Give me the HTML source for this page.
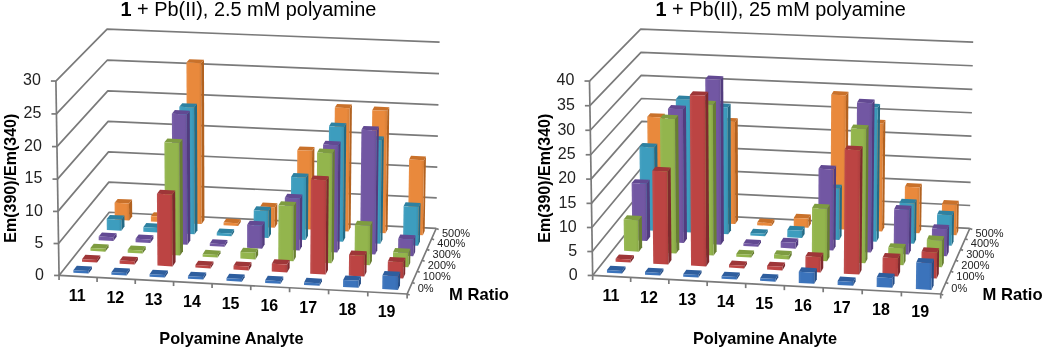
<!DOCTYPE html><html><head><meta charset="utf-8"><style>html,body{margin:0;padding:0;background:#fff}body{width:1050px;height:353px;overflow:hidden;font-family:"Liberation Sans",sans-serif}svg{display:block;filter:blur(0.45px)}</style></head><body><svg width="1050" height="353" viewBox="0 0 1050 353" font-family="'Liberation Sans', sans-serif"><defs><linearGradient id="g0" x1="0" x2="1" y1="0" y2="0"><stop offset="0" stop-color="#487CBF"/><stop offset="0.18" stop-color="#3B73BB"/><stop offset="0.8" stop-color="#3B73BB"/><stop offset="1" stop-color="#3669AC"/></linearGradient><linearGradient id="g1" x1="0" x2="1" y1="0" y2="0"><stop offset="0" stop-color="#C05150"/><stop offset="0.18" stop-color="#BC4443"/><stop offset="0.8" stop-color="#BC4443"/><stop offset="1" stop-color="#AC3E3D"/></linearGradient><linearGradient id="g2" x1="0" x2="1" y1="0" y2="0"><stop offset="0" stop-color="#9ABA59"/><stop offset="0.18" stop-color="#93B54D"/><stop offset="0.8" stop-color="#93B54D"/><stop offset="1" stop-color="#87A646"/></linearGradient><linearGradient id="g3" x1="0" x2="1" y1="0" y2="0"><stop offset="0" stop-color="#7B62A9"/><stop offset="0.18" stop-color="#7257A3"/><stop offset="0.8" stop-color="#7257A3"/><stop offset="1" stop-color="#685095"/></linearGradient><linearGradient id="g4" x1="0" x2="1" y1="0" y2="0"><stop offset="0" stop-color="#4AA3C2"/><stop offset="0.18" stop-color="#3D9DBE"/><stop offset="0.8" stop-color="#3D9DBE"/><stop offset="1" stop-color="#3890AE"/></linearGradient><linearGradient id="g5" x1="0" x2="1" y1="0" y2="0"><stop offset="0" stop-color="#EA9149"/><stop offset="0.18" stop-color="#E9893C"/><stop offset="0.8" stop-color="#E9893C"/><stop offset="1" stop-color="#D67E37"/></linearGradient></defs><polyline points="59.06,275.45 109.23,212.26 436.19,228.47" fill="none" stroke="#7a7a7a" stroke-width="1.70" stroke-linejoin="round"/>
<line x1="54.06" y1="275.45" x2="59.06" y2="275.45" stroke="#7a7a7a" stroke-width="1.70"/>
<text x="43.96" y="279.75" text-anchor="end" font-size="16" fill="#222">0</text>
<polyline points="58.55,243.52 108.88,182.15 436.74,197.84" fill="none" stroke="#7a7a7a" stroke-width="1.70" stroke-linejoin="round"/>
<line x1="53.55" y1="243.52" x2="58.55" y2="243.52" stroke="#7a7a7a" stroke-width="1.70"/>
<text x="43.45" y="247.82" text-anchor="end" font-size="16" fill="#222">5</text>
<polyline points="58.02,211.41 108.53,151.87 437.31,167.04" fill="none" stroke="#7a7a7a" stroke-width="1.70" stroke-linejoin="round"/>
<line x1="53.02" y1="211.41" x2="58.02" y2="211.41" stroke="#7a7a7a" stroke-width="1.70"/>
<text x="42.92" y="215.71" text-anchor="end" font-size="16" fill="#222">10</text>
<polyline points="57.50,179.10 108.17,121.43 437.87,136.07" fill="none" stroke="#7a7a7a" stroke-width="1.70" stroke-linejoin="round"/>
<line x1="52.50" y1="179.10" x2="57.50" y2="179.10" stroke="#7a7a7a" stroke-width="1.70"/>
<text x="42.40" y="183.40" text-anchor="end" font-size="16" fill="#222">15</text>
<polyline points="56.97,146.60 107.82,90.81 438.44,104.92" fill="none" stroke="#7a7a7a" stroke-width="1.70" stroke-linejoin="round"/>
<line x1="51.97" y1="146.60" x2="56.97" y2="146.60" stroke="#7a7a7a" stroke-width="1.70"/>
<text x="41.87" y="150.90" text-anchor="end" font-size="16" fill="#222">20</text>
<polyline points="56.44,113.91 107.46,60.03 439.01,73.60" fill="none" stroke="#7a7a7a" stroke-width="1.70" stroke-linejoin="round"/>
<line x1="51.44" y1="113.91" x2="56.44" y2="113.91" stroke="#7a7a7a" stroke-width="1.70"/>
<text x="41.34" y="118.21" text-anchor="end" font-size="16" fill="#222">25</text>
<polyline points="55.90,81.03 107.10,29.07 439.59,42.10" fill="none" stroke="#7a7a7a" stroke-width="1.70" stroke-linejoin="round"/>
<line x1="50.90" y1="81.03" x2="55.90" y2="81.03" stroke="#7a7a7a" stroke-width="1.70"/>
<text x="40.80" y="85.33" text-anchor="end" font-size="16" fill="#222">30</text>
<line x1="59.06" y1="275.45" x2="55.90" y2="81.03" stroke="#7a7a7a" stroke-width="1.70"/>
<polyline points="59.06,275.45 407.13,294.01 436.19,228.47" fill="none" stroke="#7a7a7a" stroke-width="1.70" stroke-linejoin="round"/>
<line x1="59.06" y1="275.45" x2="59.06" y2="279.95" stroke="#7a7a7a" stroke-width="1.70"/>
<line x1="97.07" y1="277.48" x2="97.07" y2="281.98" stroke="#7a7a7a" stroke-width="1.70"/>
<line x1="135.24" y1="279.52" x2="135.24" y2="284.02" stroke="#7a7a7a" stroke-width="1.70"/>
<line x1="173.57" y1="281.56" x2="173.57" y2="286.06" stroke="#7a7a7a" stroke-width="1.70"/>
<line x1="212.08" y1="283.61" x2="212.08" y2="288.11" stroke="#7a7a7a" stroke-width="1.70"/>
<line x1="250.75" y1="285.67" x2="250.75" y2="290.17" stroke="#7a7a7a" stroke-width="1.70"/>
<line x1="289.59" y1="287.74" x2="289.59" y2="292.24" stroke="#7a7a7a" stroke-width="1.70"/>
<line x1="328.60" y1="289.82" x2="328.60" y2="294.32" stroke="#7a7a7a" stroke-width="1.70"/>
<line x1="367.78" y1="291.91" x2="367.78" y2="296.41" stroke="#7a7a7a" stroke-width="1.70"/>
<line x1="407.13" y1="294.01" x2="407.13" y2="298.51" stroke="#7a7a7a" stroke-width="1.70"/>
<line x1="407.13" y1="294.01" x2="409.63" y2="295.01" stroke="#7a7a7a" stroke-width="1.70"/>
<line x1="412.24" y1="282.48" x2="414.74" y2="283.48" stroke="#7a7a7a" stroke-width="1.70"/>
<line x1="417.24" y1="271.20" x2="419.74" y2="272.20" stroke="#7a7a7a" stroke-width="1.70"/>
<line x1="422.13" y1="260.17" x2="424.63" y2="261.17" stroke="#7a7a7a" stroke-width="1.70"/>
<line x1="426.92" y1="249.38" x2="429.42" y2="250.38" stroke="#7a7a7a" stroke-width="1.70"/>
<line x1="431.60" y1="238.81" x2="434.10" y2="239.81" stroke="#7a7a7a" stroke-width="1.70"/>
<line x1="436.19" y1="228.47" x2="438.69" y2="229.47" stroke="#7a7a7a" stroke-width="1.70"/>
<polygon points="129.16,220.50 132.22,216.50 132.06,199.58 128.99,203.52" fill="#B26220" />
<polygon points="114.57,202.82 128.99,203.52 132.06,199.58 117.70,198.88" fill="#C9712A" />
<polygon points="114.76,219.78 129.16,220.50 128.99,203.52 114.57,202.82" fill="url(#g5)" />
<polygon points="165.33,222.31 168.26,218.29 168.22,212.85 165.30,216.85" fill="#B26220" />
<polygon points="150.84,216.13 165.30,216.85 168.22,212.85 153.82,212.14" fill="#C9712A" />
<polygon points="150.88,221.59 165.33,222.31 165.30,216.85 150.84,216.13" fill="url(#g5)" />
<polygon points="201.66,224.12 204.44,220.09 203.97,59.77 201.15,63.18" fill="#B26220" />
<polygon points="186.42,62.58 201.15,63.18 203.97,59.77 189.30,59.18" fill="#C9712A" />
<polygon points="187.15,223.40 201.66,224.12 201.15,63.18 186.42,62.58" fill="url(#g5)" />
<polygon points="238.14,225.95 240.77,221.90 240.77,219.17 238.14,223.21" fill="#B26220" />
<polygon points="223.56,222.48 238.14,223.21 240.77,219.17 226.25,218.45" fill="#C9712A" />
<polygon points="223.56,225.22 238.14,225.95 238.14,223.21 223.56,222.48" fill="url(#g5)" />
<polygon points="274.76,227.78 277.25,223.71 277.32,203.32 274.84,207.31" fill="#B26220" />
<polygon points="260.17,206.59 274.84,207.31 277.32,203.32 262.72,202.61" fill="#C9712A" />
<polygon points="260.13,227.05 274.76,227.78 274.84,207.31 260.17,206.59" fill="url(#g5)" />
<polygon points="311.54,229.62 313.88,225.53 314.43,147.05 312.08,150.82" fill="#B26220" />
<polygon points="297.28,150.15 312.08,150.82 314.43,147.05 299.69,146.38" fill="#C9712A" />
<polygon points="296.85,228.88 311.54,229.62 312.08,150.82 297.28,150.15" fill="url(#g5)" />
<polygon points="348.47,231.46 350.66,227.36 351.94,104.62 349.74,108.24" fill="#B26220" />
<polygon points="334.81,107.59 349.74,108.24 351.94,104.62 337.07,103.98" fill="#C9712A" />
<polygon points="333.72,230.73 348.47,231.46 349.74,108.24 334.81,107.59" fill="url(#g5)" />
<polygon points="385.56,233.32 387.59,229.20 389.27,107.16 387.23,110.79" fill="#B26220" />
<polygon points="372.24,110.15 387.23,110.79 389.27,107.16 374.35,106.52" fill="#C9712A" />
<polygon points="370.74,232.58 385.56,233.32 387.23,110.79 372.24,110.15" fill="url(#g5)" />
<polygon points="422.80,235.18 424.67,231.05 425.96,156.45 424.07,160.29" fill="#B26220" />
<polygon points="409.09,159.61 424.07,160.29 425.96,156.45 411.04,155.77" fill="#C9712A" />
<polygon points="407.92,234.43 422.80,235.18 424.07,160.29 409.09,159.61" fill="url(#g5)" />
<polygon points="121.37,230.66 124.51,226.57 124.39,215.60 121.26,219.64" fill="#246A85" />
<polygon points="106.70,218.92 121.26,219.64 124.39,215.60 109.90,214.88" fill="#2E81A1" />
<polygon points="106.83,229.92 121.37,230.66 121.26,219.64 106.70,218.92" fill="url(#g4)" />
<polygon points="157.92,232.50 160.90,228.40 160.87,223.82 157.89,227.91" fill="#246A85" />
<polygon points="143.28,227.17 157.89,227.91 160.87,223.82 146.32,223.09" fill="#2E81A1" />
<polygon points="143.32,231.77 157.92,232.50 157.89,227.91 143.28,227.17" fill="url(#g4)" />
<polygon points="194.61,234.36 197.45,230.24 197.00,103.80 194.13,107.43" fill="#246A85" />
<polygon points="179.30,106.79 194.13,107.43 197.00,103.80 182.23,103.17" fill="#2E81A1" />
<polygon points="179.95,233.62 194.61,234.36 194.13,107.43 179.30,106.79" fill="url(#g4)" />
<polygon points="231.46,236.23 234.15,232.09 234.15,229.33 231.46,233.46" fill="#246A85" />
<polygon points="216.74,232.72 231.46,233.46 234.15,229.33 219.48,228.60" fill="#2E81A1" />
<polygon points="216.74,235.48 231.46,236.23 231.46,233.46 216.74,232.72" fill="url(#g4)" />
<polygon points="268.47,238.10 271.00,233.94 271.09,206.88 268.55,210.93" fill="#246A85" />
<polygon points="253.73,210.20 268.55,210.93 271.09,206.88 256.33,206.16" fill="#2E81A1" />
<polygon points="253.68,237.35 268.47,238.10 268.55,210.93 253.73,210.20" fill="url(#g4)" />
<polygon points="305.63,239.98 308.01,235.81 308.41,173.68 306.02,177.60" fill="#246A85" />
<polygon points="291.09,176.90 306.02,177.60 308.41,173.68 293.54,172.98" fill="#2E81A1" />
<polygon points="290.78,239.23 305.63,239.98 306.02,177.60 291.09,176.90" fill="url(#g4)" />
<polygon points="342.94,241.86 345.17,237.68 346.31,123.17 344.06,126.90" fill="#246A85" />
<polygon points="328.99,126.24 344.06,126.90 346.31,123.17 331.30,122.51" fill="#2E81A1" />
<polygon points="328.03,241.11 342.94,241.86 344.06,126.90 328.99,126.24" fill="url(#g4)" />
<polygon points="380.41,243.76 382.48,239.56 383.86,136.47 381.77,140.26" fill="#246A85" />
<polygon points="366.66,139.59 381.77,140.26 383.86,136.47 368.81,135.80" fill="#2E81A1" />
<polygon points="365.44,243.00 380.41,243.76 381.77,140.26 366.66,139.59" fill="url(#g4)" />
<polygon points="418.04,245.66 419.95,241.44 420.60,202.97 418.68,207.04" fill="#246A85" />
<polygon points="403.59,206.31 418.68,207.04 420.60,202.97 405.57,202.25" fill="#2E81A1" />
<polygon points="403.00,244.90 418.04,245.66 418.68,207.04 403.59,206.31" fill="url(#g4)" />
<polygon points="113.42,241.03 116.62,236.85 116.58,233.16 113.38,237.32" fill="#523C7E" />
<polygon points="98.69,236.58 113.38,237.32 116.58,233.16 101.95,232.42" fill="#624992" />
<polygon points="98.73,240.28 113.42,241.03 113.38,237.32 98.69,236.58" fill="url(#g3)" />
<polygon points="150.34,242.92 153.39,238.73 153.37,235.34 150.32,239.52" fill="#523C7E" />
<polygon points="135.56,238.76 150.32,239.52 153.37,235.34 138.67,234.59" fill="#624992" />
<polygon points="135.59,242.16 150.34,242.92 150.32,239.52 135.56,238.76" fill="url(#g3)" />
<polygon points="187.42,244.82 190.32,240.61 189.77,110.72 186.83,114.41" fill="#523C7E" />
<polygon points="171.85,113.75 186.83,114.41 189.77,110.72 174.84,110.07" fill="#624992" />
<polygon points="172.60,244.06 187.42,244.82 186.83,114.41 171.85,113.75" fill="url(#g3)" />
<polygon points="224.65,246.72 227.39,242.50 227.39,240.02 224.65,244.24" fill="#523C7E" />
<polygon points="209.77,243.48 224.65,244.24 227.39,240.02 212.57,239.27" fill="#624992" />
<polygon points="209.77,245.96 224.65,246.72 224.65,244.24 209.77,243.48" fill="url(#g3)" />
<polygon points="262.04,248.64 264.62,244.39 264.68,221.42 262.09,225.58" fill="#523C7E" />
<polygon points="247.12,224.83 262.09,225.58 264.68,221.42 249.78,220.68" fill="#624992" />
<polygon points="247.10,247.87 262.04,248.64 262.09,225.58 247.12,224.83" fill="url(#g3)" />
<polygon points="299.58,250.56 302.01,246.30 302.33,194.53 299.88,198.59" fill="#523C7E" />
<polygon points="284.81,197.86 299.88,198.59 302.33,194.53 287.31,193.81" fill="#624992" />
<polygon points="284.58,249.79 299.58,250.56 299.88,198.59 284.81,197.86" fill="url(#g3)" />
<polygon points="337.29,252.49 339.56,248.21 340.57,141.45 338.28,145.31" fill="#523C7E" />
<polygon points="323.06,144.62 338.28,145.31 340.57,141.45 325.42,140.77" fill="#624992" />
<polygon points="322.22,251.72 337.29,252.49 338.28,145.31 323.06,144.62" fill="url(#g3)" />
<polygon points="375.15,254.43 377.27,250.13 378.86,126.62 376.73,130.42" fill="#523C7E" />
<polygon points="361.42,129.74 376.73,130.42 378.86,126.62 363.62,125.95" fill="#624992" />
<polygon points="360.02,253.65 375.15,254.43 376.73,130.42 361.42,129.74" fill="url(#g3)" />
<polygon points="413.18,256.37 415.13,252.06 415.41,235.18 413.45,239.42" fill="#523C7E" />
<polygon points="398.23,238.66 413.45,239.42 415.41,235.18 400.26,234.42" fill="#624992" />
<polygon points="397.98,255.60 413.18,256.37 413.45,239.42 398.23,238.66" fill="url(#g3)" />
<polygon points="105.30,251.63 108.57,247.36 108.54,244.57 105.27,248.82" fill="#687E32" />
<polygon points="90.43,248.05 105.27,248.82 108.54,244.57 93.76,243.81" fill="#7E9C40" />
<polygon points="90.46,250.86 105.30,251.63 105.27,248.82 90.43,248.05" fill="url(#g2)" />
<polygon points="142.61,253.56 145.72,249.28 145.70,246.16 142.58,250.44" fill="#687E32" />
<polygon points="127.67,249.67 142.58,250.44 145.70,246.16 130.85,245.40" fill="#7E9C40" />
<polygon points="127.70,252.79 142.61,253.56 142.58,250.44 127.67,249.67" fill="url(#g2)" />
<polygon points="180.07,255.50 183.03,251.20 182.48,139.13 179.49,142.98" fill="#687E32" />
<polygon points="164.36,142.30 179.49,142.98 182.48,139.13 167.42,138.45" fill="#7E9C40" />
<polygon points="165.10,254.72 180.07,255.50 179.49,142.98 164.36,142.30" fill="url(#g2)" />
<polygon points="217.68,257.45 220.49,253.13 220.48,250.63 217.68,254.94" fill="#687E32" />
<polygon points="202.64,254.16 217.68,254.94 220.48,250.63 205.51,249.86" fill="#7E9C40" />
<polygon points="202.65,256.67 217.68,257.45 217.68,254.94 202.64,254.16" fill="url(#g2)" />
<polygon points="255.46,259.41 258.11,255.07 258.12,248.50 255.47,252.81" fill="#687E32" />
<polygon points="240.37,252.03 255.47,252.81 258.12,248.50 243.08,247.73" fill="#7E9C40" />
<polygon points="240.37,258.62 255.46,259.41 255.47,252.81 240.37,252.03" fill="url(#g2)" />
<polygon points="293.40,261.37 295.89,257.02 296.19,201.89 293.69,206.03" fill="#687E32" />
<polygon points="278.46,205.28 293.69,206.03 296.19,201.89 281.02,201.16" fill="#7E9C40" />
<polygon points="278.24,260.59 293.40,261.37 293.69,206.03 278.46,205.28" fill="url(#g2)" />
<polygon points="331.51,263.35 333.83,258.98 334.81,149.23 332.47,153.16" fill="#687E32" />
<polygon points="317.09,152.46 332.47,153.16 334.81,149.23 319.50,148.53" fill="#7E9C40" />
<polygon points="316.28,262.56 331.51,263.35 332.47,153.16 317.09,152.46" fill="url(#g2)" />
<polygon points="369.77,265.33 371.94,260.94 372.43,221.47 370.26,225.70" fill="#687E32" />
<polygon points="354.91,224.94 370.26,225.70 372.43,221.47 357.15,220.71" fill="#7E9C40" />
<polygon points="354.48,264.54 369.77,265.33 370.26,225.70 354.91,224.94" fill="url(#g2)" />
<polygon points="408.21,267.32 410.21,262.91 410.43,248.71 408.43,253.06" fill="#687E32" />
<polygon points="393.05,252.28 408.43,253.06 410.43,248.71 395.12,247.93" fill="#7E9C40" />
<polygon points="392.85,266.53 408.21,267.32 408.43,253.06 393.05,252.28" fill="url(#g2)" />
<polygon points="97.01,262.45 100.35,258.09 100.32,255.59 96.98,259.94" fill="#7E2A2E" />
<polygon points="81.98,259.15 96.98,259.94 100.32,255.59 85.38,254.81" fill="#9E3638" />
<polygon points="82.01,261.67 97.01,262.45 96.98,259.94 81.98,259.15" fill="url(#g1)" />
<polygon points="134.70,264.43 137.88,260.05 137.85,256.91 134.67,261.28" fill="#7E2A2E" />
<polygon points="119.60,260.49 134.67,261.28 137.85,256.91 122.85,256.13" fill="#9E3638" />
<polygon points="119.64,263.64 134.70,264.43 134.67,261.28 119.60,260.49" fill="url(#g1)" />
<polygon points="172.55,266.42 175.58,262.02 175.18,190.43 172.13,194.54" fill="#7E2A2E" />
<polygon points="156.91,193.81 172.13,194.54 175.18,190.43 160.02,189.70" fill="#9E3638" />
<polygon points="157.43,265.62 172.55,266.42 172.13,194.54 156.91,193.81" fill="url(#g1)" />
<polygon points="210.57,268.41 213.43,264.00 213.43,261.47 210.56,265.88" fill="#7E2A2E" />
<polygon points="195.37,265.08 210.56,265.88 213.43,261.47 198.30,260.69" fill="#9E3638" />
<polygon points="195.38,267.61 210.57,268.41 210.56,265.88 195.37,265.08" fill="url(#g1)" />
<polygon points="248.75,270.41 251.45,265.98 251.46,262.19 248.75,266.61" fill="#7E2A2E" />
<polygon points="233.49,265.81 248.75,266.61 251.46,262.19 236.26,261.40" fill="#9E3638" />
<polygon points="233.49,269.61 248.75,270.41 248.75,266.61 233.49,265.81" fill="url(#g1)" />
<polygon points="287.09,272.43 289.63,267.98 289.67,260.06 287.13,264.47" fill="#7E2A2E" />
<polygon points="271.80,263.68 287.13,264.47 289.67,260.06 274.40,259.27" fill="#9E3638" />
<polygon points="271.77,271.62 287.09,272.43 287.13,264.47 271.80,263.68" fill="url(#g1)" />
<polygon points="325.60,274.45 327.98,269.98 328.77,176.25 326.37,180.34" fill="#7E2A2E" />
<polygon points="310.85,179.60 326.37,180.34 328.77,176.25 313.31,175.52" fill="#9E3638" />
<polygon points="310.21,273.64 325.60,274.45 326.37,180.34 310.85,179.60" fill="url(#g1)" />
<polygon points="364.28,276.47 366.49,271.99 366.74,251.29 364.52,255.69" fill="#7E2A2E" />
<polygon points="349.04,254.90 364.52,255.69 366.74,251.29 351.32,250.50" fill="#9E3638" />
<polygon points="348.82,275.66 364.28,276.47 364.52,255.69 349.04,254.90" fill="url(#g1)" />
<polygon points="403.13,278.51 405.17,274.01 405.42,257.74 403.38,262.18" fill="#7E2A2E" />
<polygon points="387.83,261.38 403.38,262.18 405.42,257.74 389.94,256.95" fill="#9E3638" />
<polygon points="387.60,277.70 403.13,278.51 403.38,262.18 387.83,261.38" fill="url(#g1)" />
<polygon points="88.53,273.52 91.94,269.06 91.91,266.53 88.49,270.98" fill="#264E86" />
<polygon points="73.33,270.17 88.49,270.98 91.91,266.53 76.81,265.74" fill="#2E5E9E" />
<polygon points="73.37,272.72 88.53,273.52 88.49,270.98 73.33,270.17" fill="url(#g0)" />
<polygon points="126.62,275.54 129.87,271.07 129.85,268.53 126.59,272.99" fill="#264E86" />
<polygon points="111.37,272.19 126.59,272.99 129.85,268.53 114.69,267.73" fill="#2E5E9E" />
<polygon points="111.40,274.73 126.62,275.54 126.59,272.99 111.37,272.19" fill="url(#g0)" />
<polygon points="164.87,277.58 167.96,273.08 167.95,270.54 164.85,275.02" fill="#264E86" />
<polygon points="149.56,274.21 164.85,275.02 167.95,270.54 152.72,269.74" fill="#2E5E9E" />
<polygon points="149.58,276.76 164.87,277.58 164.85,275.02 149.56,274.21" fill="url(#g0)" />
<polygon points="203.29,279.62 206.22,275.10 206.21,272.56 203.28,277.06" fill="#264E86" />
<polygon points="187.93,276.24 203.28,277.06 206.21,272.56 190.92,271.75" fill="#2E5E9E" />
<polygon points="187.94,278.80 203.29,279.62 203.28,277.06 187.93,276.24" fill="url(#g0)" />
<polygon points="241.88,281.67 244.65,277.13 244.65,274.58 241.88,279.10" fill="#264E86" />
<polygon points="226.46,278.28 241.88,279.10 244.65,274.58 229.29,273.77" fill="#2E5E9E" />
<polygon points="226.46,280.85 241.88,281.67 241.88,279.10 226.46,278.28" fill="url(#g0)" />
<polygon points="280.64,283.72 283.24,279.17 283.25,276.62 280.65,281.16" fill="#264E86" />
<polygon points="265.16,280.33 280.65,281.16 283.25,276.62 267.82,275.80" fill="#2E5E9E" />
<polygon points="265.15,282.90 280.64,283.72 280.65,281.16 265.16,280.33" fill="url(#g0)" />
<polygon points="319.56,285.79 322.00,281.22 322.02,278.66 319.58,283.22" fill="#264E86" />
<polygon points="304.03,282.39 319.58,283.22 322.02,278.66 306.52,277.84" fill="#2E5E9E" />
<polygon points="304.01,284.97 319.56,285.79 319.58,283.22 304.03,282.39" fill="url(#g0)" />
<polygon points="358.66,287.87 360.92,283.28 361.00,276.21 358.74,280.77" fill="#264E86" />
<polygon points="343.11,279.95 358.74,280.77 361.00,276.21 345.44,275.40" fill="#2E5E9E" />
<polygon points="343.04,287.04 358.66,287.87 358.74,280.77 343.11,279.95" fill="url(#g0)" />
<polygon points="397.93,289.95 400.02,285.35 400.23,271.82 398.13,276.37" fill="#264E86" />
<polygon points="382.42,275.55 398.13,276.37 400.23,271.82 384.58,271.01" fill="#2E5E9E" />
<polygon points="382.24,289.12 397.93,289.95 398.13,276.37 382.42,275.55" fill="url(#g0)" />
<text x="77.25" y="300.67" text-anchor="middle" font-size="16" font-weight="bold" fill="#000">11</text>
<text x="115.33" y="302.70" text-anchor="middle" font-size="16" font-weight="bold" fill="#000">12</text>
<text x="153.58" y="304.74" text-anchor="middle" font-size="16" font-weight="bold" fill="#000">13</text>
<text x="192.00" y="306.78" text-anchor="middle" font-size="16" font-weight="bold" fill="#000">14</text>
<text x="230.59" y="308.84" text-anchor="middle" font-size="16" font-weight="bold" fill="#000">15</text>
<text x="269.34" y="310.91" text-anchor="middle" font-size="16" font-weight="bold" fill="#000">16</text>
<text x="308.27" y="312.98" text-anchor="middle" font-size="16" font-weight="bold" fill="#000">17</text>
<text x="347.36" y="315.07" text-anchor="middle" font-size="16" font-weight="bold" fill="#000">18</text>
<text x="386.63" y="317.16" text-anchor="middle" font-size="16" font-weight="bold" fill="#000">19</text>
<text x="417.70" y="291.51" font-size="11" fill="#222">0%</text>
<text x="422.76" y="280.11" font-size="11" fill="#222">100%</text>
<text x="427.70" y="268.96" font-size="11" fill="#222">200%</text>
<text x="432.54" y="258.04" font-size="11" fill="#222">300%</text>
<text x="437.27" y="247.37" font-size="11" fill="#222">400%</text>
<text x="441.91" y="236.91" font-size="11" fill="#222">500%</text>
<polyline points="592.66,275.45 642.83,212.26 969.79,228.47" fill="none" stroke="#7a7a7a" stroke-width="1.70" stroke-linejoin="round"/>
<line x1="587.66" y1="275.45" x2="592.66" y2="275.45" stroke="#7a7a7a" stroke-width="1.70"/>
<text x="577.56" y="279.75" text-anchor="end" font-size="16" fill="#222">0</text>
<polyline points="592.28,251.52 642.56,189.69 970.20,205.52" fill="none" stroke="#7a7a7a" stroke-width="1.70" stroke-linejoin="round"/>
<line x1="587.28" y1="251.52" x2="592.28" y2="251.52" stroke="#7a7a7a" stroke-width="1.70"/>
<text x="577.18" y="255.82" text-anchor="end" font-size="16" fill="#222">5</text>
<polyline points="591.88,227.49 642.30,167.03 970.62,182.47" fill="none" stroke="#7a7a7a" stroke-width="1.70" stroke-linejoin="round"/>
<line x1="586.88" y1="227.49" x2="591.88" y2="227.49" stroke="#7a7a7a" stroke-width="1.70"/>
<text x="576.78" y="231.79" text-anchor="end" font-size="16" fill="#222">10</text>
<polyline points="591.49,203.35 642.04,144.28 971.05,159.32" fill="none" stroke="#7a7a7a" stroke-width="1.70" stroke-linejoin="round"/>
<line x1="586.49" y1="203.35" x2="591.49" y2="203.35" stroke="#7a7a7a" stroke-width="1.70"/>
<text x="576.39" y="207.65" text-anchor="end" font-size="16" fill="#222">15</text>
<polyline points="591.10,179.10 641.77,121.43 971.47,136.07" fill="none" stroke="#7a7a7a" stroke-width="1.70" stroke-linejoin="round"/>
<line x1="586.10" y1="179.10" x2="591.10" y2="179.10" stroke="#7a7a7a" stroke-width="1.70"/>
<text x="576.00" y="183.40" text-anchor="end" font-size="16" fill="#222">20</text>
<polyline points="590.70,154.75 641.51,98.48 971.90,112.73" fill="none" stroke="#7a7a7a" stroke-width="1.70" stroke-linejoin="round"/>
<line x1="585.70" y1="154.75" x2="590.70" y2="154.75" stroke="#7a7a7a" stroke-width="1.70"/>
<text x="575.60" y="159.05" text-anchor="end" font-size="16" fill="#222">25</text>
<polyline points="590.30,130.28 641.24,75.44 972.32,89.28" fill="none" stroke="#7a7a7a" stroke-width="1.70" stroke-linejoin="round"/>
<line x1="585.30" y1="130.28" x2="590.30" y2="130.28" stroke="#7a7a7a" stroke-width="1.70"/>
<text x="575.20" y="134.58" text-anchor="end" font-size="16" fill="#222">30</text>
<polyline points="589.91,105.71 640.97,52.30 972.75,65.74" fill="none" stroke="#7a7a7a" stroke-width="1.70" stroke-linejoin="round"/>
<line x1="584.91" y1="105.71" x2="589.91" y2="105.71" stroke="#7a7a7a" stroke-width="1.70"/>
<text x="574.81" y="110.01" text-anchor="end" font-size="16" fill="#222">35</text>
<polyline points="589.50,81.03 640.70,29.07 973.19,42.10" fill="none" stroke="#7a7a7a" stroke-width="1.70" stroke-linejoin="round"/>
<line x1="584.50" y1="81.03" x2="589.50" y2="81.03" stroke="#7a7a7a" stroke-width="1.70"/>
<text x="574.40" y="85.33" text-anchor="end" font-size="16" fill="#222">40</text>
<line x1="592.66" y1="275.45" x2="589.50" y2="81.03" stroke="#7a7a7a" stroke-width="1.70"/>
<polyline points="592.66,275.45 940.73,294.01 969.79,228.47" fill="none" stroke="#7a7a7a" stroke-width="1.70" stroke-linejoin="round"/>
<line x1="592.66" y1="275.45" x2="592.66" y2="279.95" stroke="#7a7a7a" stroke-width="1.70"/>
<line x1="630.67" y1="277.48" x2="630.67" y2="281.98" stroke="#7a7a7a" stroke-width="1.70"/>
<line x1="668.84" y1="279.52" x2="668.84" y2="284.02" stroke="#7a7a7a" stroke-width="1.70"/>
<line x1="707.17" y1="281.56" x2="707.17" y2="286.06" stroke="#7a7a7a" stroke-width="1.70"/>
<line x1="745.68" y1="283.61" x2="745.68" y2="288.11" stroke="#7a7a7a" stroke-width="1.70"/>
<line x1="784.35" y1="285.67" x2="784.35" y2="290.17" stroke="#7a7a7a" stroke-width="1.70"/>
<line x1="823.19" y1="287.74" x2="823.19" y2="292.24" stroke="#7a7a7a" stroke-width="1.70"/>
<line x1="862.20" y1="289.82" x2="862.20" y2="294.32" stroke="#7a7a7a" stroke-width="1.70"/>
<line x1="901.38" y1="291.91" x2="901.38" y2="296.41" stroke="#7a7a7a" stroke-width="1.70"/>
<line x1="940.73" y1="294.01" x2="940.73" y2="298.51" stroke="#7a7a7a" stroke-width="1.70"/>
<line x1="940.73" y1="294.01" x2="943.23" y2="295.01" stroke="#7a7a7a" stroke-width="1.70"/>
<line x1="945.84" y1="282.48" x2="948.34" y2="283.48" stroke="#7a7a7a" stroke-width="1.70"/>
<line x1="950.84" y1="271.20" x2="953.34" y2="272.20" stroke="#7a7a7a" stroke-width="1.70"/>
<line x1="955.73" y1="260.17" x2="958.23" y2="261.17" stroke="#7a7a7a" stroke-width="1.70"/>
<line x1="960.52" y1="249.38" x2="963.02" y2="250.38" stroke="#7a7a7a" stroke-width="1.70"/>
<line x1="965.20" y1="238.81" x2="967.70" y2="239.81" stroke="#7a7a7a" stroke-width="1.70"/>
<line x1="969.79" y1="228.47" x2="972.29" y2="229.47" stroke="#7a7a7a" stroke-width="1.70"/>
<polygon points="662.76,220.50 665.82,216.50 664.85,113.77 661.75,117.38" fill="#B26220" />
<polygon points="647.22,116.73 661.75,117.38 664.85,113.77 650.38,113.13" fill="#C9712A" />
<polygon points="648.36,219.78 662.76,220.50 661.75,117.38 647.22,116.73" fill="url(#g5)" />
<polygon points="698.93,222.31 701.86,218.29 701.17,108.44 698.22,112.03" fill="#B26220" />
<polygon points="683.62,111.39 698.22,112.03 701.17,108.44 686.63,107.80" fill="#C9712A" />
<polygon points="684.48,221.59 698.93,222.31 698.22,112.03 683.62,111.39" fill="url(#g5)" />
<polygon points="735.26,224.12 738.04,220.09 737.74,118.36 734.94,122.00" fill="#B26220" />
<polygon points="720.29,121.35 734.94,122.00 737.74,118.36 723.15,117.72" fill="#C9712A" />
<polygon points="720.75,223.40 735.26,224.12 734.94,122.00 720.29,121.35" fill="url(#g5)" />
<polygon points="771.74,225.95 774.37,221.90 774.37,219.17 771.74,223.21" fill="#B26220" />
<polygon points="757.16,222.48 771.74,223.21 774.37,219.17 759.85,218.45" fill="#C9712A" />
<polygon points="757.16,225.22 771.74,225.95 771.74,223.21 757.16,222.48" fill="url(#g5)" />
<polygon points="808.36,227.78 810.85,223.71 810.88,214.59 808.40,218.62" fill="#B26220" />
<polygon points="793.75,217.90 808.40,218.62 810.88,214.59 796.29,213.87" fill="#C9712A" />
<polygon points="793.73,227.05 808.36,227.78 808.40,218.62 793.75,217.90" fill="url(#g5)" />
<polygon points="845.14,229.62 847.48,225.53 848.42,91.73 846.07,95.29" fill="#B26220" />
<polygon points="831.19,94.66 846.07,95.29 848.42,91.73 833.61,91.10" fill="#C9712A" />
<polygon points="830.45,228.88 845.14,229.62 846.07,95.29 831.19,94.66" fill="url(#g5)" />
<polygon points="882.07,231.46 884.26,227.36 885.38,119.96 883.18,123.64" fill="#B26220" />
<polygon points="868.28,122.98 883.18,123.64 885.38,119.96 870.54,119.31" fill="#C9712A" />
<polygon points="867.32,230.73 882.07,231.46 883.18,123.64 868.28,122.98" fill="url(#g5)" />
<polygon points="919.16,233.32 921.19,229.20 921.82,183.64 919.78,187.57" fill="#B26220" />
<polygon points="904.90,186.87 919.78,187.57 921.82,183.64 907.00,182.94" fill="#C9712A" />
<polygon points="904.34,232.58 919.16,233.32 919.78,187.57 904.90,186.87" fill="url(#g5)" />
<polygon points="956.40,235.18 958.27,231.05 958.80,200.65 956.92,204.67" fill="#B26220" />
<polygon points="942.00,203.95 956.92,204.67 958.80,200.65 943.94,199.94" fill="#C9712A" />
<polygon points="941.52,234.43 956.40,235.18 956.92,204.67 942.00,203.95" fill="url(#g5)" />
<polygon points="654.97,230.66 658.11,226.57 657.26,143.75 654.10,147.51" fill="#246A85" />
<polygon points="639.45,146.84 654.10,147.51 657.26,143.75 642.67,143.08" fill="#2E81A1" />
<polygon points="640.43,229.92 654.97,230.66 654.10,147.51 639.45,146.84" fill="url(#g4)" />
<polygon points="691.52,232.50 694.50,228.40 693.59,96.20 690.57,99.78" fill="#246A85" />
<polygon points="675.79,99.15 690.57,99.78 693.59,96.20 678.88,95.57" fill="#2E81A1" />
<polygon points="676.92,231.77 691.52,232.50 690.57,99.78 675.79,99.15" fill="url(#g4)" />
<polygon points="728.21,234.36 731.05,230.24 730.60,103.65 727.73,107.27" fill="#246A85" />
<polygon points="712.90,106.63 727.73,107.27 730.60,103.65 715.83,103.01" fill="#2E81A1" />
<polygon points="713.55,233.62 728.21,234.36 727.73,107.27 712.90,106.63" fill="url(#g4)" />
<polygon points="765.06,236.23 767.75,232.09 767.75,229.56 765.06,233.69" fill="#246A85" />
<polygon points="750.34,232.95 765.06,233.69 767.75,229.56 753.08,228.83" fill="#2E81A1" />
<polygon points="750.34,235.48 765.06,236.23 765.06,233.69 750.34,232.95" fill="url(#g4)" />
<polygon points="802.07,238.10 804.60,233.94 804.63,226.58 802.09,230.70" fill="#246A85" />
<polygon points="787.29,229.96 802.09,230.70 804.63,226.58 789.89,225.84" fill="#2E81A1" />
<polygon points="787.28,237.35 802.07,238.10 802.09,230.70 787.29,229.96" fill="url(#g4)" />
<polygon points="839.23,239.98 841.61,235.81 841.94,184.86 839.55,188.83" fill="#246A85" />
<polygon points="824.63,188.12 839.55,188.83 841.94,184.86 827.09,184.15" fill="#2E81A1" />
<polygon points="824.38,239.23 839.23,239.98 839.55,188.83 824.63,188.12" fill="url(#g4)" />
<polygon points="876.54,241.86 878.77,237.68 880.10,103.95 877.85,107.61" fill="#246A85" />
<polygon points="862.75,106.96 877.85,107.61 880.10,103.95 865.07,103.31" fill="#2E81A1" />
<polygon points="861.63,241.11 876.54,241.86 877.85,107.61 862.75,106.96" fill="url(#g4)" />
<polygon points="914.01,243.76 916.08,239.56 916.62,199.38 914.54,203.42" fill="#246A85" />
<polygon points="899.51,202.70 914.54,203.42 916.62,199.38 901.65,198.66" fill="#2E81A1" />
<polygon points="899.04,243.00 914.01,243.76 914.54,203.42 899.51,202.70" fill="url(#g4)" />
<polygon points="951.64,245.66 953.55,241.44 954.06,211.22 952.14,215.32" fill="#246A85" />
<polygon points="937.07,214.58 952.14,215.32 954.06,211.22 939.05,210.49" fill="#2E81A1" />
<polygon points="936.60,244.90 951.64,245.66 952.14,215.32 937.07,214.58" fill="url(#g4)" />
<polygon points="647.02,241.03 650.22,236.85 649.60,179.84 646.38,183.80" fill="#523C7E" />
<polygon points="631.62,183.09 646.38,183.80 649.60,179.84 634.89,179.14" fill="#624992" />
<polygon points="632.33,240.28 647.02,241.03 646.38,183.80 631.62,183.09" fill="url(#g3)" />
<polygon points="683.94,242.92 686.99,238.73 685.98,105.70 682.89,109.36" fill="#523C7E" />
<polygon points="667.96,108.71 682.89,109.36 685.98,105.70 671.12,105.05" fill="#624992" />
<polygon points="669.19,242.16 683.94,242.92 682.89,109.36 667.96,108.71" fill="url(#g3)" />
<polygon points="721.02,244.82 723.92,240.61 723.22,76.17 720.28,79.73" fill="#523C7E" />
<polygon points="705.24,79.10 720.28,79.73 723.22,76.17 708.25,75.55" fill="#624992" />
<polygon points="706.20,244.06 721.02,244.82 720.28,79.73 705.24,79.10" fill="url(#g3)" />
<polygon points="758.25,246.72 760.99,242.50 760.99,239.95 758.25,244.16" fill="#523C7E" />
<polygon points="743.37,243.40 758.25,244.16 760.99,239.95 746.17,239.19" fill="#624992" />
<polygon points="743.37,245.96 758.25,246.72 758.25,244.16 743.37,243.40" fill="url(#g3)" />
<polygon points="795.64,248.64 798.22,244.39 798.24,238.58 795.65,242.80" fill="#523C7E" />
<polygon points="780.70,242.04 795.65,242.80 798.24,238.58 783.35,237.83" fill="#624992" />
<polygon points="780.70,247.87 795.64,248.64 795.65,242.80 780.70,242.04" fill="url(#g3)" />
<polygon points="833.18,250.56 835.61,246.30 836.10,165.63 833.65,169.58" fill="#523C7E" />
<polygon points="818.54,168.87 833.65,169.58 836.10,165.63 821.05,164.94" fill="#624992" />
<polygon points="818.18,249.79 833.18,250.56 833.65,169.58 818.54,168.87" fill="url(#g3)" />
<polygon points="870.89,252.49 873.16,248.21 874.57,99.52 872.26,103.20" fill="#523C7E" />
<polygon points="856.99,102.55 872.26,103.20 874.57,99.52 859.36,98.87" fill="#624992" />
<polygon points="855.82,251.72 870.89,252.49 872.26,103.20 856.99,102.55" fill="url(#g3)" />
<polygon points="908.75,254.43 910.87,250.13 911.44,205.79 909.32,209.91" fill="#523C7E" />
<polygon points="894.12,209.17 909.32,209.91 911.44,205.79 896.31,205.06" fill="#624992" />
<polygon points="893.62,253.65 908.75,254.43 909.32,209.91 894.12,209.17" fill="url(#g3)" />
<polygon points="946.78,256.37 948.73,252.06 949.17,225.07 947.21,229.28" fill="#523C7E" />
<polygon points="931.98,228.52 947.21,229.28 949.17,225.07 934.01,224.32" fill="#624992" />
<polygon points="931.58,255.60 946.78,256.37 947.21,229.28 931.98,228.52" fill="url(#g3)" />
<polygon points="638.90,251.63 642.17,247.36 641.81,216.08 638.53,220.22" fill="#687E32" />
<polygon points="623.64,219.47 638.53,220.22 641.81,216.08 626.99,215.34" fill="#7E9C40" />
<polygon points="624.06,250.86 638.90,251.63 638.53,220.22 623.64,219.47" fill="url(#g2)" />
<polygon points="676.21,253.56 679.32,249.28 678.21,115.16 675.05,118.91" fill="#687E32" />
<polygon points="659.96,118.25 675.05,118.91 678.21,115.16 663.19,114.50" fill="#7E9C40" />
<polygon points="661.30,252.79 676.21,253.56 675.05,118.91 659.96,118.25" fill="url(#g2)" />
<polygon points="713.67,255.50 716.63,251.20 715.89,101.00 712.89,104.70" fill="#687E32" />
<polygon points="697.72,104.04 712.89,104.70 715.89,101.00 700.78,100.34" fill="#7E9C40" />
<polygon points="698.70,254.72 713.67,255.50 712.89,104.70 697.72,104.04" fill="url(#g2)" />
<polygon points="751.28,257.45 754.09,253.13 754.08,250.55 751.28,254.86" fill="#687E32" />
<polygon points="736.24,254.09 751.28,254.86 754.08,250.55 739.11,249.78" fill="#7E9C40" />
<polygon points="736.25,256.67 751.28,257.45 751.28,254.86 736.24,254.09" fill="url(#g2)" />
<polygon points="789.06,259.41 791.71,255.07 791.72,251.08 789.07,255.40" fill="#687E32" />
<polygon points="773.97,254.62 789.07,255.40 791.72,251.08 776.68,250.31" fill="#7E9C40" />
<polygon points="773.97,258.62 789.06,259.41 789.07,255.40 773.97,254.62" fill="url(#g2)" />
<polygon points="827.00,261.37 829.49,257.02 829.78,204.58 827.28,208.73" fill="#687E32" />
<polygon points="812.05,207.98 827.28,208.73 829.78,204.58 814.61,203.85" fill="#7E9C40" />
<polygon points="811.84,260.59 827.00,261.37 827.28,208.73 812.05,207.98" fill="url(#g2)" />
<polygon points="865.11,263.35 867.43,258.98 868.63,125.23 866.28,129.06" fill="#687E32" />
<polygon points="850.86,128.38 866.28,129.06 868.63,125.23 853.28,124.55" fill="#7E9C40" />
<polygon points="849.88,262.56 865.11,263.35 866.28,129.06 850.86,128.38" fill="url(#g2)" />
<polygon points="903.37,265.33 905.54,260.94 905.75,243.92 903.58,248.24" fill="#687E32" />
<polygon points="888.27,247.47 903.58,248.24 905.75,243.92 890.50,243.15" fill="#7E9C40" />
<polygon points="888.08,264.54 903.37,265.33 903.58,248.24 888.27,247.47" fill="url(#g2)" />
<polygon points="941.81,267.32 943.81,262.91 944.23,236.13 942.23,240.43" fill="#687E32" />
<polygon points="926.83,239.66 942.23,240.43 944.23,236.13 928.90,235.36" fill="#7E9C40" />
<polygon points="926.45,266.53 941.81,267.32 942.23,240.43 926.83,239.66" fill="url(#g2)" />
<polygon points="630.61,262.45 633.95,258.09 633.91,255.27 630.57,259.62" fill="#7E2A2E" />
<polygon points="615.57,258.84 630.57,259.62 633.91,255.27 618.97,254.49" fill="#9E3638" />
<polygon points="615.61,261.67 630.61,262.45 630.57,259.62 615.57,258.84" fill="url(#g1)" />
<polygon points="668.30,264.43 671.48,260.05 670.65,167.41 667.43,171.41" fill="#7E2A2E" />
<polygon points="652.24,170.70 667.43,171.41 670.65,167.41 655.52,166.70" fill="#9E3638" />
<polygon points="653.24,263.64 668.30,264.43 667.43,171.41 652.24,170.70" fill="url(#g1)" />
<polygon points="706.15,266.42 709.18,262.02 708.23,91.84 705.15,95.54" fill="#7E2A2E" />
<polygon points="689.79,94.89 705.15,95.54 708.23,91.84 692.93,91.19" fill="#9E3638" />
<polygon points="691.03,265.62 706.15,266.42 705.15,95.54 689.79,94.89" fill="url(#g1)" />
<polygon points="744.17,268.41 747.03,264.00 747.03,261.40 744.16,265.80" fill="#7E2A2E" />
<polygon points="728.97,265.00 744.16,265.80 747.03,261.40 731.90,260.61" fill="#9E3638" />
<polygon points="728.98,267.61 744.17,268.41 744.16,265.80 728.97,265.00" fill="url(#g1)" />
<polygon points="782.35,270.41 785.05,265.98 785.06,262.43 782.35,266.84" fill="#7E2A2E" />
<polygon points="767.09,266.05 782.35,266.84 785.06,262.43 769.86,261.64" fill="#9E3638" />
<polygon points="767.09,269.61 782.35,270.41 782.35,266.84 767.09,266.05" fill="url(#g1)" />
<polygon points="820.69,272.43 823.23,267.98 823.31,252.76 820.76,257.15" fill="#7E2A2E" />
<polygon points="805.42,256.36 820.76,257.15 823.31,252.76 808.03,251.98" fill="#9E3638" />
<polygon points="805.37,271.62 820.69,272.43 820.76,257.15 805.42,256.36" fill="url(#g1)" />
<polygon points="859.20,274.45 861.58,269.98 862.62,146.32 860.22,150.29" fill="#7E2A2E" />
<polygon points="844.65,149.58 860.22,150.29 862.62,146.32 847.12,145.62" fill="#9E3638" />
<polygon points="843.81,273.64 859.20,274.45 860.22,150.29 844.65,149.58" fill="url(#g1)" />
<polygon points="897.88,276.47 900.09,271.99 900.31,253.84 898.09,258.26" fill="#7E2A2E" />
<polygon points="882.61,257.46 898.09,258.26 900.31,253.84 884.89,253.05" fill="#9E3638" />
<polygon points="882.42,275.66 897.88,276.47 898.09,258.26 882.61,257.46" fill="url(#g1)" />
<polygon points="936.73,278.51 938.77,274.01 939.17,248.15 937.12,252.55" fill="#7E2A2E" />
<polygon points="921.56,251.76 937.12,252.55 939.17,248.15 923.68,247.37" fill="#9E3638" />
<polygon points="921.20,277.70 936.73,278.51 937.12,252.55 921.56,251.76" fill="url(#g1)" />
<polygon points="622.13,273.52 625.54,269.06 625.51,266.45 622.09,270.90" fill="#264E86" />
<polygon points="606.93,270.09 622.09,270.90 625.51,266.45 610.41,265.66" fill="#2E5E9E" />
<polygon points="606.97,272.72 622.13,273.52 622.09,270.90 606.93,270.09" fill="url(#g0)" />
<polygon points="660.22,275.54 663.47,271.07 663.44,268.45 660.19,272.92" fill="#264E86" />
<polygon points="644.97,272.11 660.19,272.92 663.44,268.45 648.29,267.65" fill="#2E5E9E" />
<polygon points="645.00,274.73 660.22,275.54 660.19,272.92 644.97,272.11" fill="url(#g0)" />
<polygon points="698.47,277.58 701.56,273.08 701.55,270.46 698.45,274.94" fill="#264E86" />
<polygon points="683.16,274.13 698.45,274.94 701.55,270.46 686.32,269.66" fill="#2E5E9E" />
<polygon points="683.18,276.76 698.47,277.58 698.45,274.94 683.16,274.13" fill="url(#g0)" />
<polygon points="736.89,279.62 739.82,275.10 739.81,272.48 736.88,276.98" fill="#264E86" />
<polygon points="721.53,276.16 736.88,276.98 739.81,272.48 724.52,271.67" fill="#2E5E9E" />
<polygon points="721.54,278.80 736.89,279.62 736.88,276.98 721.53,276.16" fill="url(#g0)" />
<polygon points="775.48,281.67 778.25,277.13 778.25,274.50 775.48,279.02" fill="#264E86" />
<polygon points="760.06,278.20 775.48,279.02 778.25,274.50 762.89,273.69" fill="#2E5E9E" />
<polygon points="760.06,280.85 775.48,281.67 775.48,279.02 760.06,278.20" fill="url(#g0)" />
<polygon points="814.24,283.72 816.84,279.17 816.88,268.13 814.28,272.64" fill="#264E86" />
<polygon points="798.78,271.82 814.28,272.64 816.88,268.13 801.45,267.33" fill="#2E5E9E" />
<polygon points="798.75,282.90 814.24,283.72 814.28,272.64 798.78,271.82" fill="url(#g0)" />
<polygon points="853.16,285.79 855.60,281.22 855.63,277.38 853.19,281.93" fill="#264E86" />
<polygon points="837.63,281.11 853.19,281.93 855.63,277.38 840.13,276.56" fill="#2E5E9E" />
<polygon points="837.61,284.97 853.16,285.79 853.19,281.93 837.63,281.11" fill="url(#g0)" />
<polygon points="892.26,287.87 894.52,283.28 894.63,273.64 892.37,278.19" fill="#264E86" />
<polygon points="876.73,277.37 892.37,278.19 894.63,273.64 879.06,272.83" fill="#2E5E9E" />
<polygon points="876.64,287.04 892.26,287.87 892.37,278.19 876.73,277.37" fill="url(#g0)" />
<polygon points="931.53,289.95 933.62,285.35 934.02,258.75 931.93,263.24" fill="#264E86" />
<polygon points="916.20,262.43 931.93,263.24 934.02,258.75 918.36,257.94" fill="#2E5E9E" />
<polygon points="915.84,289.12 931.53,289.95 931.93,263.24 916.20,262.43" fill="url(#g0)" />
<text x="610.85" y="300.67" text-anchor="middle" font-size="16" font-weight="bold" fill="#000">11</text>
<text x="648.93" y="302.70" text-anchor="middle" font-size="16" font-weight="bold" fill="#000">12</text>
<text x="687.18" y="304.74" text-anchor="middle" font-size="16" font-weight="bold" fill="#000">13</text>
<text x="725.60" y="306.78" text-anchor="middle" font-size="16" font-weight="bold" fill="#000">14</text>
<text x="764.19" y="308.84" text-anchor="middle" font-size="16" font-weight="bold" fill="#000">15</text>
<text x="802.94" y="310.91" text-anchor="middle" font-size="16" font-weight="bold" fill="#000">16</text>
<text x="841.87" y="312.98" text-anchor="middle" font-size="16" font-weight="bold" fill="#000">17</text>
<text x="880.96" y="315.07" text-anchor="middle" font-size="16" font-weight="bold" fill="#000">18</text>
<text x="920.23" y="317.16" text-anchor="middle" font-size="16" font-weight="bold" fill="#000">19</text>
<text x="951.30" y="291.51" font-size="11" fill="#222">0%</text>
<text x="956.36" y="280.11" font-size="11" fill="#222">100%</text>
<text x="961.30" y="268.96" font-size="11" fill="#222">200%</text>
<text x="966.14" y="258.04" font-size="11" fill="#222">300%</text>
<text x="970.87" y="247.37" font-size="11" fill="#222">400%</text>
<text x="975.51" y="236.91" font-size="11" fill="#222">500%</text>
<text x="120.50" y="16.3" font-size="19.9" fill="#000"><tspan font-weight="bold">1</tspan> + Pb(II), 2.5 mM polyamine</text>
<text x="655.50" y="16.3" font-size="19.9" fill="#000"><tspan font-weight="bold">1</tspan> + Pb(II), 25 mM polyamine</text>
<text transform="translate(15.90,178.2) rotate(-90)" text-anchor="middle" font-size="16" font-weight="bold" fill="#000">Em(390)/Em(340)</text>
<text x="159.30" y="343.6" font-size="16.3" font-weight="bold" fill="#000">Polyamine Analyte</text>
<text x="449.00" y="299.5" font-size="16.6" font-weight="bold" fill="#000">M Ratio</text>
<text transform="translate(549.50,178.2) rotate(-90)" text-anchor="middle" font-size="16" font-weight="bold" fill="#000">Em(390)/Em(340)</text>
<text x="692.90" y="343.6" font-size="16.3" font-weight="bold" fill="#000">Polyamine Analyte</text>
<text x="982.60" y="299.5" font-size="16.6" font-weight="bold" fill="#000">M Ratio</text></svg></body></html>
